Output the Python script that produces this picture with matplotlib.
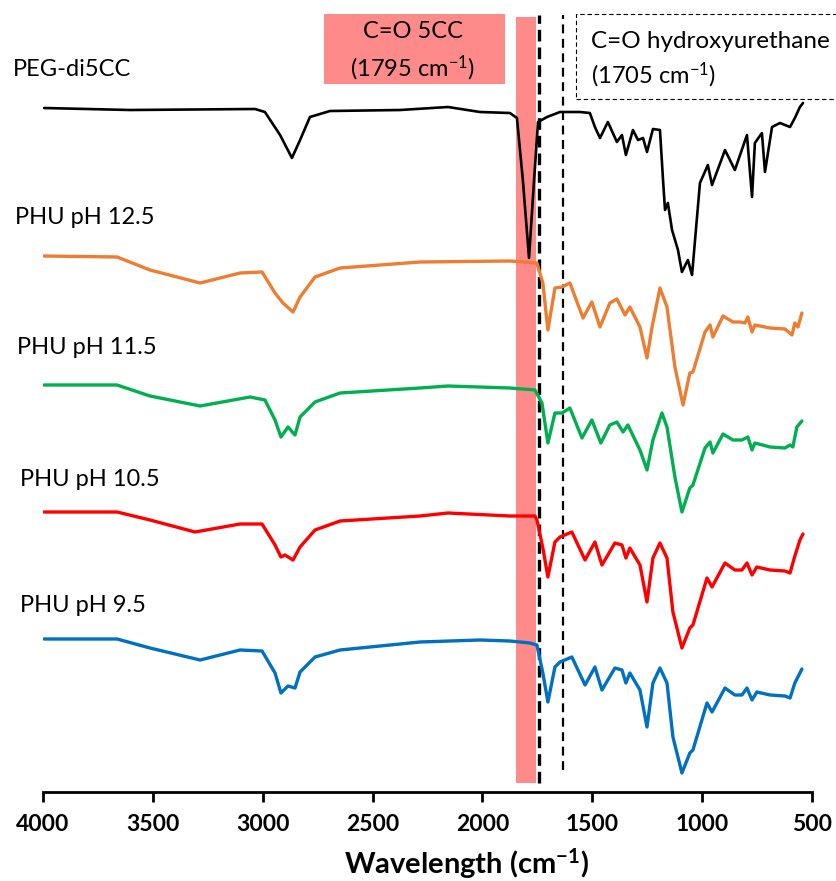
import matplotlib
matplotlib.use("Agg")
import matplotlib.pyplot as plt
from matplotlib.patches import Rectangle

plt.rcParams['font.family'] = ['Lato', 'DejaVu Sans']
plt.rcParams['mathtext.fontset'] = 'custom'
plt.rcParams['mathtext.rm'] = 'Lato'
plt.rcParams['mathtext.bf'] = 'Lato:bold'
plt.rcParams['mathtext.default'] = 'regular'

# espectros FTIR (numero de onda, intensidad a.u. con desplazamiento)
peg_w = [3995, 3604, 3035, 2990, 2921, 2867, 2830, 2785, 2694, 2375, 2157, 2011, 1875, 1843,
         1816, 1788, 1765, 1747, 1706, 1647, 1556, 1511, 1488, 1465, 1429, 1388, 1365, 1347,
         1315, 1292, 1269, 1251, 1224, 1192, 1178, 1169, 1156, 1137, 1110, 1092, 1065, 1046,
         1010, 974, 955, 896, 851, 796, 773, 760, 728, 714, 682, 646, 600, 578, 555, 541]
peg_i = [684, 682, 683, 680, 657, 634, 652, 675, 681, 682, 685, 680, 679, 674,
         612, 534, 612, 670, 675, 680, 680, 679, 665, 654, 670, 650, 657, 637,
         662, 652, 654, 640, 663, 662, 612, 582, 589, 562, 542, 520, 532, 517,
         609, 627, 607, 642, 622, 657, 595, 649, 659, 620, 665, 669, 665, 674, 685, 689]

ph125_w = [3995, 3663, 3513, 3285, 3103, 3003, 2944, 2908, 2862, 2830, 2762, 2648, 2284, 1875,
           1752, 1725, 1702, 1670, 1638, 1602, 1542, 1502, 1465, 1420, 1388, 1351, 1329, 1283,
           1251, 1228, 1192, 1160, 1124, 1087, 1056, 1042, 987, 964, 951, 905, 860, 828, 805,
           792, 773, 760, 691, 623, 591, 578, 564, 546]
ph125_i = [536, 535, 522, 509, 519, 520, 499, 489, 480, 495, 515, 524, 530, 531,
           529, 509, 462, 504, 505, 509, 474, 490, 465, 489, 493, 477, 485, 465,
           434, 465, 504, 485, 425, 387, 419, 420, 460, 467, 455, 476, 470, 470, 469,
           475, 460, 467, 464, 463, 457, 469, 465, 479]

ph115_w = [3995, 3663, 3513, 3285, 3058, 2990, 2944, 2917, 2885, 2853, 2830, 2762, 2648, 2284,
           2157, 1875, 1761, 1729, 1702, 1670, 1638, 1602, 1547, 1502, 1461, 1420, 1388, 1360,
           1338, 1283, 1251, 1224, 1183, 1160, 1124, 1092, 1056, 1042, 987, 964, 951, 905, 860,
           819, 792, 773, 760, 691, 623, 600, 587, 569, 546]
ph115_i = [407, 407, 396, 386, 395, 392, 372, 355, 365, 357, 375, 390, 399, 404,
           406, 404, 402, 389, 349, 379, 379, 384, 354, 372, 349, 367, 370, 360,
           367, 342, 322, 352, 379, 365, 315, 280, 304, 307, 344, 350, 339, 358, 352,
           352, 355, 342, 349, 345, 344, 347, 345, 365, 371]

ph105_w = [3995, 3663, 3513, 3308, 3103, 3003, 2944, 2917, 2899, 2862, 2830, 2762, 2648, 2284,
           2157, 1875, 1761, 1752, 1725, 1702, 1670, 1647, 1593, 1533, 1488, 1456, 1397, 1365,
           1347, 1329, 1283, 1251, 1224, 1192, 1160, 1133, 1092, 1056, 1042, 978, 955, 896, 851,
           819, 796, 773, 751, 691, 623, 600, 578, 555, 541]
ph105_i = [280, 280, 272, 260, 268, 268, 247, 235, 237, 232, 245, 262, 271, 276,
           279, 276, 276, 272, 244, 215, 250, 255, 260, 232, 250, 227, 249, 247,
           234, 244, 227, 190, 234, 249, 234, 180, 144, 164, 167, 214, 205, 229, 222,
           222, 229, 217, 225, 222, 221, 219, 236, 252, 258]

ph95_w = [3995, 3663, 3513, 3285, 3103, 3003, 2944, 2917, 2885, 2853, 2830, 2762, 2648, 2284,
          2011, 1875, 1784, 1752, 1725, 1702, 1670, 1647, 1593, 1533, 1488, 1456, 1397, 1365,
          1347, 1329, 1283, 1251, 1224, 1192, 1160, 1133, 1092, 1056, 1042, 978, 955, 896, 851,
          819, 796, 773, 751, 691, 623, 600, 578, 555, 546]
ph95_i = [153, 153, 144, 132, 142, 141, 119, 99, 106, 104, 120, 135, 142, 150,
          152, 151, 149, 147, 119, 90, 125, 130, 135, 107, 125, 102, 124, 122,
          109, 119, 102, 65, 109, 124, 109, 55, 19, 39, 42, 89, 80, 104, 97,
          97, 104, 92, 100, 97, 96, 94, 109, 119, 123]

series = [
    (peg_w, peg_i, 'black', 'PEG-di5CC', 722, 1.9),
    (ph125_w, ph125_i, '#ED7D31', 'PHU pH 12.5', 575, 2.4),
    (ph115_w, ph115_i, '#00B050', 'PHU pH 11.5', 444, 2.4),
    (ph105_w, ph105_i, '#FF0000', 'PHU pH 10.5', 313, 2.4),
    (ph95_w, ph95_i, '#0070C0', 'PHU pH 9.5', 187, 2.4),
]
label_x = [4137, 4128, 4119, 4105, 4105]

fig = plt.figure(figsize=(8.37, 8.81), dpi=100)
ax = fig.add_axes([43 / 837, 89 / 881, 769 / 837, 792 / 881])

# banda C=O del carbonato ciclico
ax.fill_between([1847, 1756], 9, 775, color='#FF8A8A', lw=0, zorder=1)
ax.plot([1743, 1743], [9, 777], color='black', lw=2.4, ls=(0, (3.5, 1.8)), zorder=2)
ax.plot([1633, 1633], [22, 777], color='black', lw=1.6, ls=(0, (4, 2.5)), zorder=2)

for (w, i, c, nombre, ly, lw), lx in zip(series, label_x):
    ax.plot(w, i, color=c, lw=lw, solid_joinstyle='round', solid_capstyle='round', zorder=3)
    ax.text(lx, ly, nombre, fontsize=17, ha='left', va='center', clip_on=False)

# caja roja
ax.add_patch(Rectangle((2721, 708), 1897 - 2721, 778 - 708, facecolor='#FF8A8A',
                       edgecolor='none', clip_on=False, zorder=1))
ax.text(2316, 760, 'C=O 5CC', fontsize=17, ha='center', va='center')
ax.text(2316, 724, '(1795 cm$^{-1}$)', fontsize=17, ha='center', va='center')

# caja discontinua
ax.add_patch(Rectangle((1574, 693), 300 - 1574, 778 - 693, facecolor='none',
                       edgecolor='black', lw=0.8, ls=(0, (4, 2.5)), clip_on=False))
ax.text(1506, 750, 'C=O hydroxyurethane', fontsize=17.5, ha='left', va='center', clip_on=False)
ax.text(1506, 717, '(1705 cm$^{-1}$)', fontsize=17, ha='left', va='center')

ax.set_xlim(4000, 500)
ax.set_ylim(0, 792)
ax.set_xticks([4000, 3500, 3000, 2500, 2000, 1500, 1000, 500])
for s in ['top', 'left', 'right']:
    ax.spines[s].set_visible(False)
ax.spines['bottom'].set_linewidth(2)
ax.set_yticks([])
ax.tick_params(axis='x', direction='out', length=7, width=2, pad=9, labelsize=16.5)
for t in ax.get_xticklabels():
    t.set_fontweight('bold')
ax.set_xlabel(r'Wavelength (cm$^{\mathbf{-1}}$)', fontsize=21, fontweight='bold')
ax.xaxis.set_label_coords((467 - 43) / 769, -0.068)

fig.savefig('out.png', dpi=100)
